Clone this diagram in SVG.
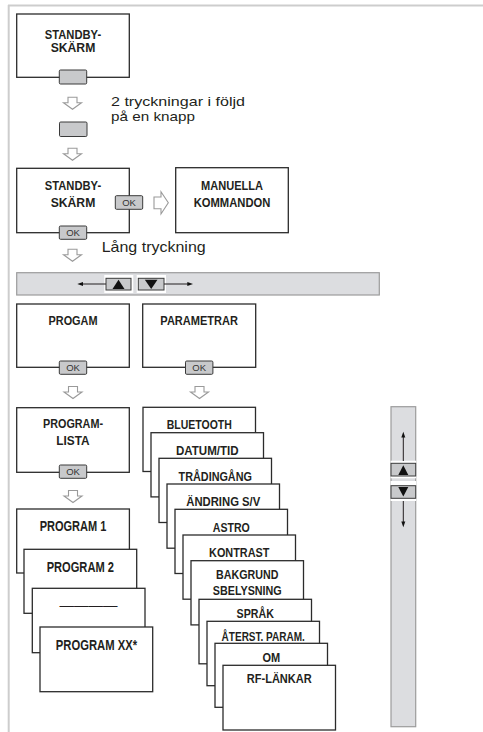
<svg xmlns="http://www.w3.org/2000/svg" width="483" height="732" viewBox="0 0 483 732">
<defs>
<style>
.box{fill:#fff;stroke:#2b2b2b;stroke-width:1.3}
.btn{fill:#c8c9cb;stroke:#3a3a3a;stroke-width:1}
.bar{fill:#dcdde0;stroke:#9c9c9c;stroke-width:1.2}
.lbl{font-family:"Liberation Sans",Arial,sans-serif;font-size:12.5px;font-weight:bold;fill:#231f20;text-anchor:middle}
.big{font-size:14.3px}
.ok{font-family:"Liberation Sans",Arial,sans-serif;font-size:9.5px;fill:#333;text-anchor:middle}
.note{font-family:"Liberation Sans",Arial,sans-serif;font-size:13.5px;fill:#231f20}
.harrow{fill:#fff;stroke:#9a9a9a;stroke-width:1.1;stroke-linejoin:miter}
.ln{stroke:#231f20;stroke-width:1;fill:none}
.tri{fill:#111}
.frame{stroke:#cdcdcd;stroke-width:2;fill:none}
</style>
<path id="dn" class="harrow" d="M-4.5,0 H4.5 V5.5 H9 L0,12 L-9,5.5 H-4.5 Z"/>
</defs>
<rect x="0" y="0" width="483" height="732" fill="#fff"/>
<g id="frame">
<line class="frame" x1="8" y1="5.5" x2="483" y2="5.5"/>
<line class="frame" x1="8.7" y1="5" x2="8.7" y2="732"/>
</g>

<g id="standby1">
<rect class="box" x="16.7" y="14" width="112.6" height="63.3"/>
<text class="lbl" x="73" y="38.5" textLength="56.3" lengthAdjust="spacingAndGlyphs">STANDBY-</text>
<text class="lbl" x="73" y="51.7" textLength="44.7" lengthAdjust="spacingAndGlyphs">SKÄRM</text>
<rect class="btn" x="59.3" y="70" width="27.4" height="14" rx="1.2"/>
</g>
<g id="button2">
<rect class="btn" x="59.5" y="122" width="27.5" height="14.5" rx="1.2"/>
</g>
<g id="note1">
<text class="note" x="111" y="105.5" textLength="134" lengthAdjust="spacingAndGlyphs">2 tryckningar i följd</text>
<text class="note" x="111" y="121.2" textLength="84" lengthAdjust="spacingAndGlyphs">på en knapp</text>
</g>

<g id="standby2">
<rect class="box" x="16.7" y="168.3" width="112.6" height="64.4"/>
<text class="lbl" x="73" y="190" textLength="56.3" lengthAdjust="spacingAndGlyphs">STANDBY-</text>
<text class="lbl" x="73" y="206.7" textLength="44.7" lengthAdjust="spacingAndGlyphs">SKÄRM</text>
<rect class="btn" x="115.3" y="195.7" width="27.4" height="13.6" rx="1.2"/>
<text class="ok" x="129" y="205.8">OK</text>
<rect class="btn" x="59.3" y="226" width="27.4" height="13.3" rx="1.2"/>
<text class="ok" x="73" y="236">OK</text>
</g>
<g id="manuella">
<rect class="box" x="175.7" y="167.7" width="112.6" height="65"/>
<text class="lbl" x="232" y="190" textLength="62" lengthAdjust="spacingAndGlyphs">MANUELLA</text>
<text class="lbl" x="232" y="206.7" textLength="76.7" lengthAdjust="spacingAndGlyphs">KOMMANDON</text>
</g>
<g id="note2">
<text class="note" x="101.7" y="251.7" textLength="104" lengthAdjust="spacingAndGlyphs" style="font-size:14.5px">Lång tryckning</text>
</g>

<g id="hbar">
<rect class="bar" x="16.7" y="272.7" width="362.6" height="22.3"/>
<rect x="104.3" y="275" width="29" height="18" fill="#fff"/>
<rect x="136.7" y="275" width="29.3" height="18" fill="#fff"/>
<rect class="btn" x="106" y="278.3" width="25" height="11.7"/>
<rect class="btn" x="138.3" y="278.3" width="25.7" height="11.7"/>
<polygon class="tri" points="112.5,289 124.5,289 118.5,279.8"/>
<polygon class="tri" points="144.8,279.8 157.5,279.8 151.2,289"/>
<line class="ln" x1="82" y1="284" x2="106" y2="284"/>
<polygon class="tri" points="77.3,284 83,282 83,286"/>
<line class="ln" x1="164" y1="284" x2="188" y2="284"/>
<polygon class="tri" points="193,284 187.3,282 187.3,286"/>
</g>

<g id="progam">
<rect class="box" x="16.7" y="304" width="112.6" height="63.3"/>
<text class="lbl" x="73" y="325" textLength="49" lengthAdjust="spacingAndGlyphs">PROGAM</text>
<rect class="btn" x="59.3" y="361" width="27.4" height="13.3" rx="1.2"/>
<text class="ok" x="73" y="371">OK</text>
</g>
<g id="parametrar">
<rect class="box" x="142.7" y="304" width="113" height="63.3"/>
<text class="lbl" x="199.2" y="325" textLength="77.7" lengthAdjust="spacingAndGlyphs">PARAMETRAR</text>
<rect class="btn" x="185.5" y="361" width="27.4" height="13.3" rx="1.2"/>
<text class="ok" x="199.2" y="371">OK</text>
</g>
<g id="programlista">
<rect class="box" x="16.7" y="407.7" width="112.6" height="64.6"/>
<text class="lbl" x="73" y="428.3" textLength="60" lengthAdjust="spacingAndGlyphs">PROGRAM-</text>
<text class="lbl" x="73" y="445" textLength="33.3" lengthAdjust="spacingAndGlyphs">LISTA</text>
<rect class="btn" x="59.3" y="465" width="27.4" height="13.3" rx="1.2"/>
<text class="ok" x="73" y="475">OK</text>
</g>

<g id="program1">
<rect class="box" x="16.7" y="509" width="112.7" height="64"/>
<text class="lbl big" x="73" y="531" textLength="66.7" lengthAdjust="spacingAndGlyphs">PROGRAM 1</text>
</g>
<g id="program2">
<rect class="box" x="24" y="549.3" width="112.7" height="64"/>
<text class="lbl big" x="80.3" y="571.7" textLength="67.3" lengthAdjust="spacingAndGlyphs">PROGRAM 2</text>
</g>
<g id="programdots">
<rect class="box" x="32.3" y="588.3" width="112.7" height="64.4"/>
<text class="lbl" x="88.5" y="610.3" textLength="58" lengthAdjust="spacingAndGlyphs" style="font-weight:normal">————</text>
</g>
<g id="programxx">
<rect class="box" x="40" y="627" width="112.7" height="64.7"/>
<text class="lbl big" x="96.5" y="650" textLength="81.3" lengthAdjust="spacingAndGlyphs">PROGRAM XX*</text>
</g>

<g id="p-bluetooth">
<rect class="box" x="143" y="407.3" width="112.5" height="64.2"/>
<text class="lbl" x="199.25" y="429.3" textLength="65" lengthAdjust="spacingAndGlyphs">BLUETOOTH</text>
</g>
<g id="p-datum">
<rect class="box" x="151" y="432.7" width="112.5" height="64.2"/>
<text class="lbl" x="207.25" y="455" textLength="62.7" lengthAdjust="spacingAndGlyphs">DATUM/TID</text>
</g>
<g id="p-tradingang">
<rect class="box" x="159" y="458.3" width="112.5" height="64.2"/>
<text class="lbl" x="215.25" y="480.7" textLength="73.3" lengthAdjust="spacingAndGlyphs">TRÅDINGÅNG</text>
</g>
<g id="p-andring">
<rect class="box" x="167" y="484" width="112.5" height="64.2"/>
<text class="lbl" x="223.25" y="506" textLength="74" lengthAdjust="spacingAndGlyphs">ÄNDRING S/V</text>
</g>
<g id="p-astro">
<rect class="box" x="175" y="509.3" width="112.5" height="64.2"/>
<text class="lbl" x="231.25" y="531.7" textLength="37" lengthAdjust="spacingAndGlyphs">ASTRO</text>
</g>
<g id="p-kontrast">
<rect class="box" x="183" y="535" width="112.5" height="64.2"/>
<text class="lbl" x="239.25" y="557.3" textLength="60.3" lengthAdjust="spacingAndGlyphs">KONTRAST</text>
</g>
<g id="p-bakgrund">
<rect class="box" x="191" y="560.7" width="112.5" height="64.2"/>
<text class="lbl" x="247.25" y="579" textLength="62.3" lengthAdjust="spacingAndGlyphs">BAKGRUND</text>
<text class="lbl" x="247.25" y="595" textLength="69" lengthAdjust="spacingAndGlyphs">SBELYSNING</text>
</g>
<g id="p-sprak">
<rect class="box" x="199" y="599.3" width="112.5" height="64.5"/>
<text class="lbl" x="255.25" y="618.3" textLength="37.3" lengthAdjust="spacingAndGlyphs">SPRÅK</text>
</g>
<g id="p-aterst">
<rect class="box" x="207" y="621.3" width="112.5" height="64.4"/>
<text class="lbl" x="263.25" y="640.7" textLength="83.3" lengthAdjust="spacingAndGlyphs">ÅTERST. PARAM.</text>
</g>
<g id="p-om">
<rect class="box" x="215" y="643.3" width="112.5" height="64"/>
<text class="lbl" x="271.25" y="661.7" textLength="17.7" lengthAdjust="spacingAndGlyphs">OM</text>
</g>
<g id="p-rflankar">
<rect class="box" x="223" y="665.3" width="112.5" height="64.7"/>
<text class="lbl" x="279.25" y="683.3" textLength="65" lengthAdjust="spacingAndGlyphs">RF-LÄNKAR</text>
</g>

<g id="vbar">
<rect class="bar" x="391" y="406.7" width="24.7" height="320"/>
<rect x="390.6" y="460.7" width="25.5" height="17.6" fill="#fff"/>
<rect x="390.6" y="481" width="25.5" height="20" fill="#fff"/>
<rect class="btn" x="391" y="463.3" width="24.7" height="12.7"/>
<rect class="btn" x="391" y="485.7" width="24.7" height="12.6"/>
<polygon class="tri" points="398.3,475 408.3,475 403.3,465.3"/>
<polygon class="tri" points="398.3,486.9 408.3,486.9 403.3,496.5"/>
<line class="ln" x1="403.3" y1="437" x2="403.3" y2="461"/>
<polygon class="tri" points="403.3,431.7 401.3,437.5 405.3,437.5"/>
<line class="ln" x1="403.3" y1="501" x2="403.3" y2="522"/>
<polygon class="tri" points="403.3,527.3 401.3,521.5 405.3,521.5"/>
</g>

<g id="connectors">
<use href="#dn" x="72.5" y="97.3"/>
<use href="#dn" x="72.5" y="148.3"/>
<use href="#dn" x="72.5" y="249.3"/>
<use href="#dn" x="73" y="386.5"/>
<use href="#dn" x="199.5" y="386.5"/>
<use href="#dn" x="73" y="490.5"/>
<path class="harrow" d="M154,197 H161 V191.7 L168.3,202.7 L161,214 V208.7 H154 Z"/>
</g>
</svg>
